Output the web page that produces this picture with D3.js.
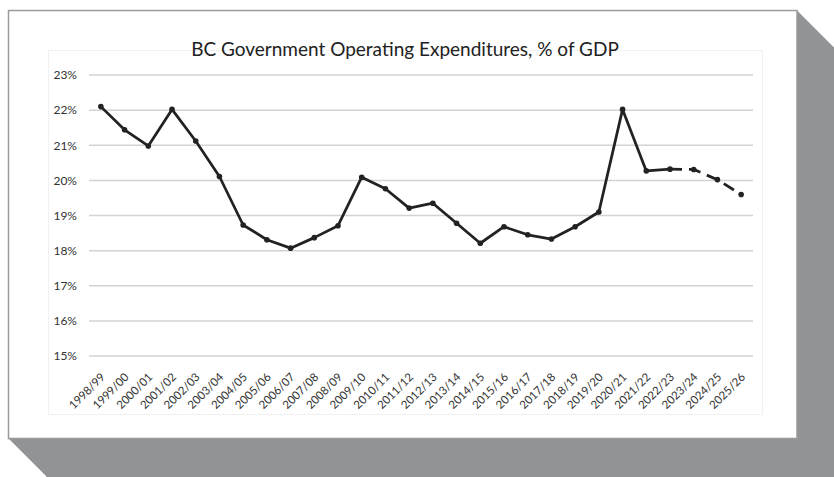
<!DOCTYPE html>
<html>
<head>
<meta charset="utf-8">
<script src="https://cdn.jsdelivr.net/npm/d3@7"></script>
<style>
html,body{margin:0;padding:0;background:#fff;}
svg{display:block;}
</style>
</head>
<body>
<svg id="chart" width="834" height="477"></svg>
<script>
const categories = ["1998/99","1999/00","2000/01","2001/02","2002/03","2003/04","2004/05","2005/06","2006/07","2007/08","2008/09","2009/10","2010/11","2011/12","2012/13","2013/14","2014/15","2015/16","2016/17","2017/18","2018/19","2019/20","2020/21","2021/22","2022/23","2023/24","2024/25","2025/26"];
const values = [22.1,21.44,20.98,22.02,21.12,20.11,18.73,18.31,18.07,18.37,18.71,20.09,19.76,19.21,19.35,18.78,18.21,18.68,18.45,18.33,18.68,19.1,22.02,20.27,20.32,20.31,20.02,19.6];
const forecastStart = "2022/23";
const yTicks = [15,16,17,18,19,20,21,22,23];
const title = "BC Government Operating Expenditures, % of GDP";

const svg = d3.select("#chart");
const font = "Lato, 'Open Sans', sans-serif";

// card with 3D shadow
const card = {x0:8.5, y0:10.5, x1:797, y1:438.5}, off = 38;
svg.append("polygon")
  .attr("points", [[card.x1,card.y0],[card.x1+off,card.y0+off],[834,card.y0+off],[834,477],[card.x0+off,477],[card.x0+off,card.y1+off],[card.x0,card.y1],[card.x1,card.y1]].map(p=>p.join(",")).join(" "))
  .attr("fill","#929396");
svg.append("rect").attr("x",card.x0+off).attr("y",card.y0+off).attr("width",834).attr("height",477).attr("fill","#929396");
svg.append("rect").attr("x",card.x0).attr("y",card.y0).attr("width",card.x1-card.x0).attr("height",card.y1-card.y0)
  .attr("fill","#fff").attr("stroke","#9a9a9a").attr("stroke-width",1.5);

// chart area faint border
svg.append("rect").attr("x",48.5).attr("y",50.5).attr("width",714).attr("height",364)
  .attr("fill","#fff").attr("stroke","#f0f0f0").attr("stroke-width",1);

const x = d3.scaleBand().domain(categories).range([89,753]);
const y = d3.scaleLinear().domain([15,23]).range([356,75]);
const cx = d => x(d) + x.bandwidth()/2;

// gridlines
svg.append("g").selectAll("line").data(yTicks).join("line")
  .attr("x1",89).attr("x2",753).attr("y1",d=>y(d)).attr("y2",d=>y(d))
  .attr("stroke","#d3d3d3").attr("stroke-width",1.5);

// y axis labels
const yAxis = d3.axisLeft(y).tickValues(yTicks).tickFormat(d=>d+"%").tickSize(0).tickPadding(0);
const yg = svg.append("g").attr("transform","translate(77,0)").call(yAxis);
yg.select(".domain").remove();
yg.selectAll("text").attr("font-family",font).attr("font-size",12).attr("fill","#333");

// x axis labels
const xAxis = d3.axisBottom(x).tickSize(0).tickPadding(0);
const xg = svg.append("g").attr("transform","translate(0,364)").call(xAxis);
xg.select(".domain").remove();
xg.selectAll("text")
  .attr("font-family",font).attr("font-size",11.5).attr("fill","#333")
  .attr("text-anchor","end").attr("dy","0.35em").attr("y",0)
  .attr("transform","translate(2,11) rotate(-45)");

// line
const data = categories.map((c,i)=>({c,v:values[i]}));
const fi = categories.indexOf(forecastStart);
const line = d3.line().x(d=>cx(d.c)).y(d=>y(d.v));
svg.append("path").datum(data.slice(0,fi+1)).attr("d",line)
  .attr("fill","none").attr("stroke","#222").attr("stroke-width",2.75).attr("stroke-linejoin","round");
svg.append("path").datum(data.slice(fi)).attr("d",line)
  .attr("fill","none").attr("stroke","#222").attr("stroke-width",2.75).attr("stroke-dasharray","12,7");
svg.append("g").selectAll("circle").data(data).join("circle")
  .attr("cx",d=>cx(d.c)).attr("cy",d=>y(d.v)).attr("r",2.8).attr("fill","#222");

// title
svg.append("text").attr("x",405).attr("y",56).attr("text-anchor","middle")
  .attr("font-family",font).attr("font-size",19).attr("fill","#222").text(title);
</script>
</body>
</html>
